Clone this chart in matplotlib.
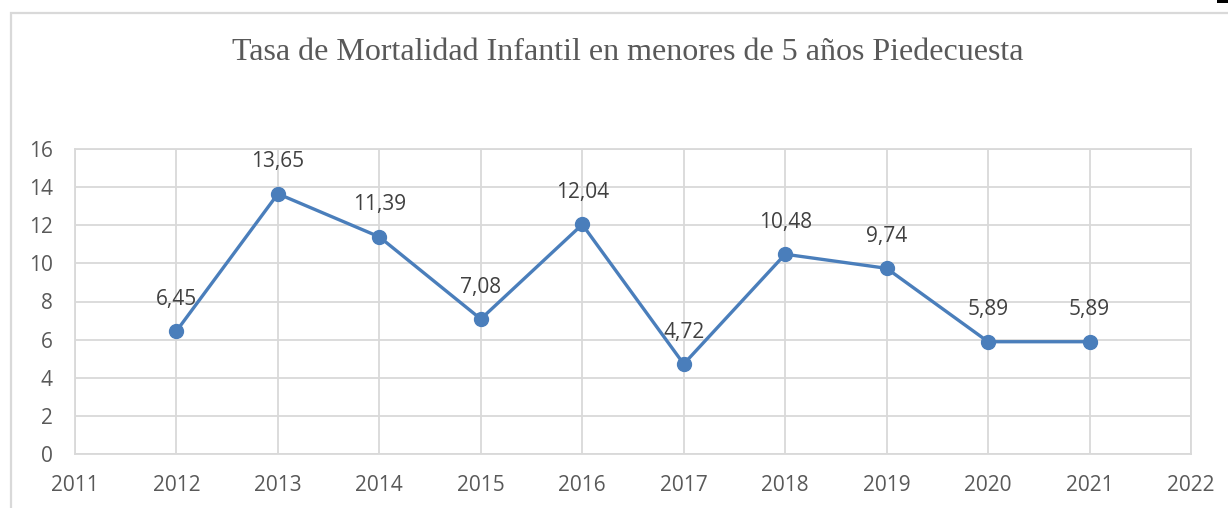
import matplotlib.pyplot as plt
from matplotlib.patches import Rectangle

# Tasa de mortalidad infantil en menores de 5 años - Piedecuesta
years = [2012, 2013, 2014, 2015, 2016, 2017, 2018, 2019, 2020, 2021]
rates = [6.45, 13.65, 11.39, 7.08, 12.04, 4.72, 10.48, 9.74, 5.89, 5.89]
x_ticks = list(range(2011, 2023))
y_ticks = list(range(0, 17, 2))
title = 'Tasa de Mortalidad Infantil en menores de 5 años Piedecuesta'

grid_col = '#D9D9D9'
text_col = '#595959'
line_col = '#4A7EBB'

fig = plt.figure(figsize=(12.28, 5.08), dpi=100)
ax = fig.add_axes([75 / 1228, 1 - 454 / 508, (1191 - 75) / 1228, (454 - 149) / 508])

# outer chart frame (runs off the right and bottom edges)
fig.patches.append(Rectangle((11 / 1228, -0.1), 1.2, 1 - 13 / 508 + 0.1,
                             transform=fig.transFigure, fill=False,
                             edgecolor=grid_col, linewidth=1.6, clip_on=False))
# small dark mark at the top right corner
fig.patches.append(Rectangle((1217 / 1228, 1 - 3 / 508), 11 / 1228, 3 / 508,
                             transform=fig.transFigure, facecolor='black',
                             edgecolor='none'))

ax.plot(years, rates, color=line_col, linewidth=2.4, marker='o',
        markersize=10, zorder=3)

for x, y in zip(years, rates):
    ax.annotate(f'{y:.2f}'.replace('.', ','), (x, y), xytext=(0, 23),
                textcoords='offset points', ha='center', va='center',
                fontsize=15, color='#404040', family='Open Sans')

ax.set_xlim(2011, 2022)
ax.set_ylim(0, 16)
ax.set_xticks(x_ticks)
ax.set_yticks(y_ticks)
ax.grid(True, color=grid_col, linewidth=1.3)
ax.set_axisbelow(True)
for s in ax.spines.values():
    s.set_color(grid_col)
    s.set_linewidth(1.3)
ax.tick_params(length=0, labelsize=15, labelcolor=text_col)
ax.tick_params(axis='x', pad=15)
ax.tick_params(axis='y', pad=16)
for lbl in ax.get_xticklabels() + ax.get_yticklabels():
    lbl.set_family('Open Sans')

fig.text(628 / 1228, 1 - 52 / 508, title, ha='center', va='center',
         fontsize=23, color=text_col, family='Liberation Serif')

fig.savefig('out.png', dpi=100)
